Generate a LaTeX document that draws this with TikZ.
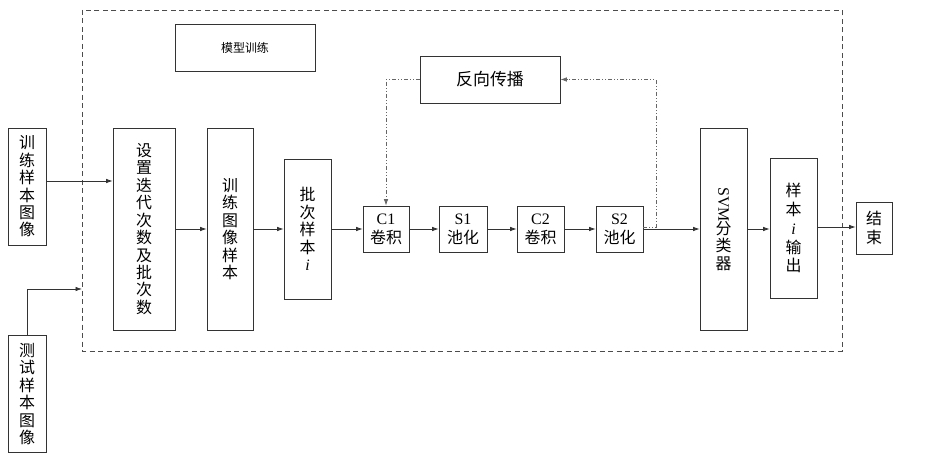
\documentclass[tikz,border=0pt]{standalone}
\usepackage{fontspec}
\setmainfont{Liberation Serif}
\newfontfamily\cjk{Noto Sans CJK SC}
\usetikzlibrary{arrows.meta,calc}
\begin{document}
\begin{tikzpicture}[x=1bp,y=-1bp,
  box/.style={draw=black!80,line width=0.8bp,rectangle,inner sep=0pt,font=\fontsize{16}{17.5}\selectfont\cjk,align=center},
  arr/.style={draw=black!80,line width=0.7bp,-{Latex[length=6.5bp,width=4.5bp]}},
  fb/.style={draw=black!60,line width=0.7bp,dash pattern=on 4bp off 2bp on 1bp off 2bp on 1bp off 2bp},
]
\useasboundingbox (0,0) rectangle (948,464);
\draw[draw=black!70,line width=0.8bp,dash pattern=on 5bp off 3.5bp] (82,10) rectangle (842,351);
\node[box,minimum width=140bp,minimum height=47bp,font=\fontsize{12}{14}\selectfont\cjk] (mx) at (245,48) {模型训练};
\node[box,minimum width=140bp,minimum height=47bp,font=\fontsize{17}{20}\selectfont\cjk] (fx) at (490,79.5) {反向传播};
\node[box,minimum width=38bp,minimum height=117bp] (train) at (27,186.5) {训\\练\\样\\本\\图\\像};
\node[box,minimum width=38bp,minimum height=117bp] (test) at (27,394) {测\\试\\样\\本\\图\\像};
\node[box,minimum width=62bp,minimum height=202bp] (set) at (144,229) {设\\置\\迭\\代\\次\\数\\及\\批\\次\\数};
\node[box,minimum width=46bp,minimum height=202bp] (tis) at (230,229) {训\\练\\图\\像\\样\\本};
\node[box,minimum width=47bp,minimum height=140bp] (pc) at (307.5,229) {批\\次\\样\\本\\{\rmfamily\itshape i}};
\node[box,minimum width=46bp,minimum height=46bp,font=\fontsize{16}{19}\selectfont\cjk] (c1) at (386,229) {{\rmfamily C1}\\卷积};
\node[box,minimum width=48bp,minimum height=46bp,font=\fontsize{16}{19}\selectfont\cjk] (s1) at (463,229) {{\rmfamily S1}\\池化};
\node[box,minimum width=47bp,minimum height=46bp,font=\fontsize{16}{19}\selectfont\cjk] (c2) at (540.5,229) {{\rmfamily C2}\\卷积};
\node[box,minimum width=47bp,minimum height=46bp,font=\fontsize{16}{19}\selectfont\cjk] (s2) at (619.5,229) {{\rmfamily S2}\\池化};
\node[box,minimum width=47bp,minimum height=202bp] (svm) at (723.5,229) {\rotatebox[origin=c]{-90}{\rmfamily SVM}\\[-2bp]分\\类\\器};
\node[box,minimum width=47bp,minimum height=140bp,font=\fontsize{16}{19}\selectfont\cjk] (out) at (793.5,228) {样\\本\\{\rmfamily\itshape i}\\输\\出};
\node[box,minimum width=36bp,minimum height=52bp,font=\fontsize{16}{19}\selectfont\cjk] (end) at (874,228) {结\\束};
% main arrows
\draw[arr] (train.east |- 0,181) -- (set.west |- 0,181);
\coordinate (tin) at (82,289);
\draw[arr] (test.north) |- (tin);
\draw[arr] (set.east) -- (tis.west);
\draw[arr] (tis.east) -- (pc.west);
\draw[arr] (pc.east) -- (c1.west);
\draw[arr] (c1.east) -- (s1.west);
\draw[arr] (s1.east) -- (c2.west);
\draw[arr] (c2.east) -- (s2.west);
\draw[arr] (s2.east) -- (svm.west);
\draw[arr] (svm.east) -- (out.west |- svm.east);
\draw[arr] (out.east |- 0,227) -- (end.west |- 0,227);
% feedback
\coordinate (fr) at (656,227);
\draw[fb,-{Latex[length=6.5bp,width=4.5bp]}] (s2.east |- fr) -- (fr) |- (fx.east);
\draw[fb,-{Latex[length=6.5bp,width=4.5bp]}] (fx.west) -| (c1.north);
\end{tikzpicture}
\end{document}
